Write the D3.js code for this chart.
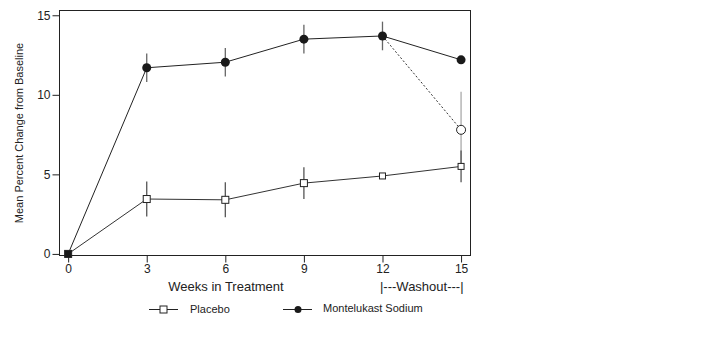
<!DOCTYPE html>
<html><head><meta charset="utf-8">
<script src="https://cdn.jsdelivr.net/npm/d3@7"></script>
<style>body{margin:0;background:#fff}svg{display:block}text{font-family:"Liberation Sans",Arial,sans-serif;fill:#222}</style>
</head><body><svg id="c" width="728" height="343"></svg>
<script>
const weeks = [0, 3, 6, 9, 12, 15];
const placebo = [0, 3.45, 3.4, 4.45, 4.9, 5.5];
const placeboErr = [0, 1.1, 1.1, 1.0, 0, 1.0];
const montelukast = [0, 11.7, 12.05, 13.5, 13.7, 12.2];
const montelukastErr = [0, 0.9, 0.9, 0.9, 0.9, 0];
const washoutWeeks = [12, 15];
const washout = [13.7, 7.8];
const washoutErr = [0, 2.4];
const yTicks = [0, 5, 10, 15];
const xTicks = [0, 3, 6, 9, 12, 15];

const svg = d3.select("#c");
const x = d3.scaleLinear().domain([-0.33, 15.36]).range([59.5, 470.5]);
const y = d3.scaleLinear().domain([-0.1, 15.3]).range([255.5, 10.5]);

svg.append("rect").attr("x", 59.5).attr("y", 10.5).attr("width", 411).attr("height", 245)
  .attr("fill", "none").attr("stroke", "#222").attr("stroke-width", 1);

const ya = svg.append("g").attr("transform", "translate(59.5,0)")
  .call(d3.axisLeft(y).tickValues(yTicks).tickSize(7).tickPadding(2));
const xa = svg.append("g").attr("transform", "translate(0,255.5)")
  .call(d3.axisBottom(x).tickValues(xTicks).tickSize(7).tickPadding(2));
[ya, xa].forEach(a => {
  a.select(".domain").remove();
  a.selectAll("line").attr("stroke", "#222");
  a.selectAll("text").style("font-size", "12px").style("font-family", '"Liberation Sans",Arial,sans-serif').attr("fill", "#222");
});

svg.append("text").attr("transform", "translate(23,133) rotate(-90)").attr("text-anchor", "middle")
  .style("font-size", "11px").text("Mean Percent Change from Baseline");
svg.append("text").attr("x", 226).attr("y", 291).attr("text-anchor", "middle")
  .style("font-size", "13px").text("Weeks in Treatment");
svg.append("text").attr("x", x(13.5)).attr("y", 291).attr("text-anchor", "middle")
  .style("font-size", "13px").text("|---Washout---|");

const idx = d3.range(weeks.length);
function errBars(xs, vals, errs, color) {
  svg.append("g").selectAll("line").data(d3.range(xs.length).filter(i => errs[i] > 0)).join("line")
    .attr("x1", i => x(xs[i])).attr("x2", i => x(xs[i]))
    .attr("y1", i => y(vals[i] - errs[i])).attr("y2", i => y(vals[i] + errs[i]))
    .attr("stroke", color).attr("stroke-width", 1.3);
}
errBars(washoutWeeks, washout, washoutErr, "#aaa");
errBars(weeks, placebo, placeboErr, "#555");
errBars(weeks, montelukast, montelukastErr, "#666");

const line = (xs, vs) => d3.line().x(i => x(xs[i])).y(i => y(vs[i]))(d3.range(xs.length));
svg.append("path").attr("d", line(weeks, placebo)).attr("fill", "none").attr("stroke", "#333").attr("stroke-width", 1);
svg.append("path").attr("d", line(weeks, montelukast)).attr("fill", "none").attr("stroke", "#222").attr("stroke-width", 1);
svg.append("path").attr("d", line(washoutWeeks, washout)).attr("fill", "none").attr("stroke", "#333")
  .attr("stroke-width", 1).attr("stroke-dasharray", "2,2");

svg.append("g").selectAll("circle").data(idx.filter(i => i > 0)).join("circle")
  .attr("cx", i => x(weeks[i])).attr("cy", i => y(montelukast[i])).attr("r", 4.5).attr("fill", "#1a1a1a");
svg.append("circle").attr("cx", x(washoutWeeks[1])).attr("cy", y(washout[1])).attr("r", 4.5)
  .attr("fill", "#fff").attr("stroke", "#222").attr("stroke-width", 1);
const sq = i => (i === 0 ? 7 : (i >= 4 ? 6 : 7));
svg.append("g").selectAll("rect").data(idx).join("rect")
  .attr("x", i => x(weeks[i]) - sq(i) / 2).attr("y", i => y(placebo[i]) - sq(i) / 2)
  .attr("width", sq).attr("height", sq)
  .attr("fill", i => i === 0 ? "#1a1a1a" : "#fff").attr("stroke", "#222").attr("stroke-width", 1);

const lg = svg.append("g");
lg.append("line").attr("x1", 149).attr("x2", 178).attr("y1", 309.5).attr("y2", 309.5).attr("stroke", "#222");
lg.append("rect").attr("x", 160).attr("y", 306).attr("width", 7).attr("height", 7).attr("fill", "#fff").attr("stroke", "#222");
lg.append("text").attr("x", 190).attr("y", 313).style("font-size", "11px").text("Placebo");
lg.append("line").attr("x1", 283).attr("x2", 312).attr("y1", 309.5).attr("y2", 309.5).attr("stroke", "#222");
lg.append("circle").attr("cx", 298).attr("cy", 309.5).attr("r", 3.5).attr("fill", "#1a1a1a");
lg.append("text").attr("x", 323).attr("y", 312).style("font-size", "11px").text("Montelukast Sodium");
</script></body></html>
